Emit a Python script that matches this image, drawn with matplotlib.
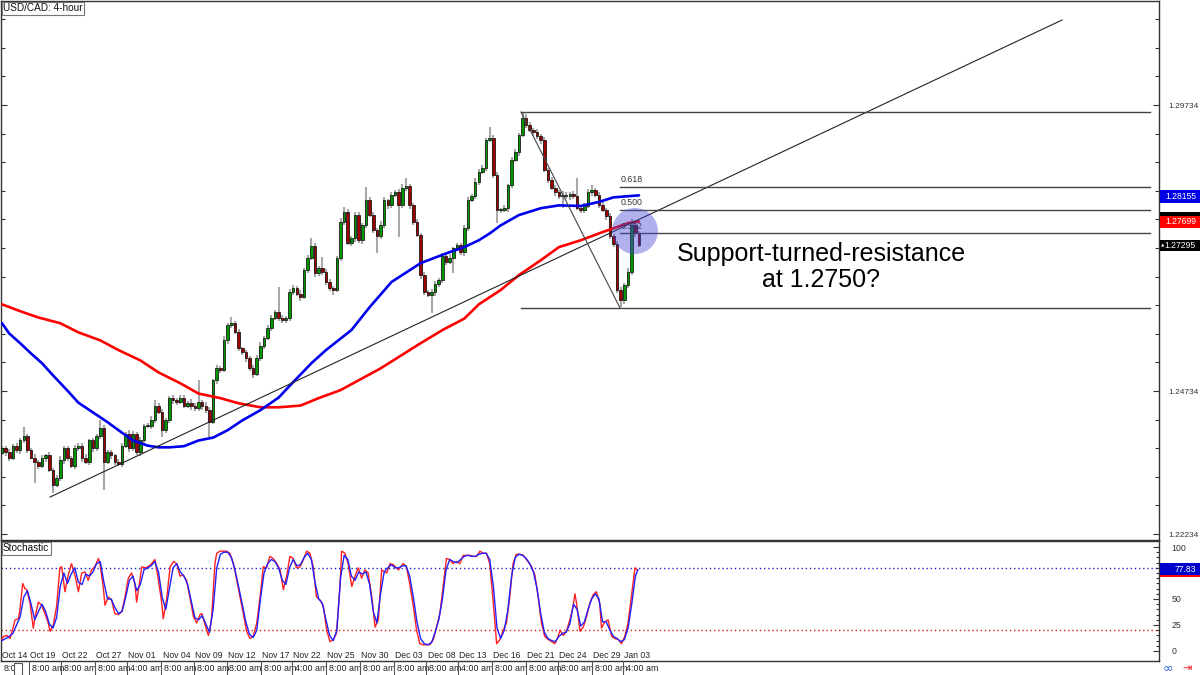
import numpy as np
import matplotlib
matplotlib.use("Agg")
import matplotlib.pyplot as plt
from matplotlib.patches import Rectangle, Ellipse
from matplotlib.transforms import blended_transform_factory

# ---------------- data ----------------
first_open = 1.2365
close = [1.2373,1.2366,1.2356,1.2377,1.2370,1.2387,1.2394,1.2370,1.2357,1.2349,
         1.2342,1.2356,1.2361,1.2335,1.2310,1.2321,1.2352,1.2373,1.2356,1.2342,
         1.2373,1.2378,1.2356,1.2349,1.2387,1.2373,1.2394,1.2408,1.2349,1.2366,
         1.2361,1.2349,1.2345,1.2378,1.2398,1.2373,1.2398,1.2366,1.2387,1.2412,
         1.2413,1.2422,1.2448,1.2436,1.2405,1.2422,1.2461,1.2457,1.2454,1.2461,
         1.2448,1.2452,1.2447,1.2443,1.2454,1.2448,1.2440,1.2419,1.2492,1.2513,
         1.2510,1.2562,1.2588,1.2592,1.2576,1.2548,1.2541,1.2531,1.2513,1.2504,
         1.2531,1.2553,1.2566,1.2583,1.2601,1.2611,1.2601,1.2597,1.2601,1.2646,
         1.2653,1.2643,1.2637,1.2685,1.2706,1.2727,1.2679,1.2688,1.2681,1.2664,
         1.2653,1.2650,1.2706,1.2769,1.2786,1.2732,1.2741,1.2781,1.2737,1.2763,
         1.2807,1.2781,1.2755,1.2744,1.2763,1.2807,1.2798,1.2816,1.2821,1.2798,
         1.2828,1.2832,1.2798,1.2769,1.2746,1.2676,1.2646,1.2641,1.2646,1.2660,
         1.2667,1.2709,1.2699,1.2706,1.2723,1.2728,1.2716,1.2758,1.2807,1.2814,
         1.2839,1.2856,1.2863,1.2912,1.2916,1.2851,1.2790,1.2790,1.2793,1.2833,
         1.2877,1.2891,1.2921,1.2951,1.2938,1.2930,1.2926,1.2919,1.2912,1.2860,
         1.2842,1.2828,1.2821,1.2814,1.2816,1.2814,1.2818,1.2814,1.2793,1.2790,
         1.2797,1.2821,1.2825,1.2816,1.2798,1.2790,1.2779,1.2744,1.2730,1.2650,
         1.2632,1.2658,1.2681,1.2763,1.2749,1.27295]
upper_wick_pips = [5,4,6,3,5,4,16,5,3,6,4,5,3,6,4,5,7,4,5,3,
                   6,4,5,7,3,5,4,14,6,5,4,3,6,5,4,7,5,3,6,4,
                   5,7,9,4,6,5,3,5,4,6,5,4,7,5,38,4,6,5,3,6,
                   4,7,5,10,4,6,3,5,4,6,5,7,4,5,6,4,44,5,3,6,
                   5,4,7,3,6,14,5,4,19,5,6,4,3,7,9,5,4,6,5,4,
                   23,5,6,4,7,5,3,6,4,5,7,14,4,5,6,3,5,4,6,5,
                   4,6,5,7,3,5,4,6,5,4,7,5,6,4,19,5,6,4,5,3,
                   6,5,4,10,7,5,4,6,3,5,4,6,5,4,7,5,3,6,31,4,
                   5,6,8,4,5,6,3,5,4,6,5,4,7,12,5,4]
lower_wick_pips = [4,6,5,3,5,6,4,5,3,37,5,4,6,3,14,5,4,6,5,3,
                   5,4,6,3,5,7,4,5,49,4,6,5,3,5,4,6,5,4,7,5,
                   4,6,5,3,12,5,4,6,5,3,5,4,6,5,4,7,5,26,4,6,
                   5,4,6,5,3,5,4,6,5,7,4,5,6,3,5,4,6,5,4,6,
                   5,4,6,3,5,4,7,5,4,6,5,9,4,6,5,3,5,7,4,6,
                   5,4,6,30,5,4,7,5,3,56,5,4,6,5,4,7,5,4,31,6,
                   5,4,6,3,26,5,4,6,5,3,5,6,4,5,3,6,23,5,4,6,
                   5,4,6,3,5,4,7,5,6,4,5,3,6,5,21,4,6,5,3,6,
                   5,4,6,3,5,4,6,5,4,5,12,6,4,5,6,5]

blue_ma = [(0,1.2592),(2,1.2574),(5,1.2557),(8,1.2539),(11,1.2522),(14,1.2501),(18,1.2474),
           (21,1.2453),(25,1.2436),(29,1.2419),(32,1.2405),(36,1.2387),(40,1.2378),(43,1.2375),
           (46,1.2375),(50,1.2377),(54,1.2387),(58,1.2392),(62,1.2405),(66,1.2422),(71,1.2440),
           (76,1.2462),(80,1.2489),(85,1.2522),(89,1.2545),(96,1.2580),(101,1.2620),(107,1.2664),
           (115,1.2697),(122,1.2714),(127,1.2725),(131,1.2737),(134,1.2749),(137,1.2763),
           (142,1.2781),(148,1.2793),(153,1.2798),(159,1.2797),(164,1.2804),(168,1.2812),
           (172,1.2814),(175,1.28155)]
red_ma = [(0,1.2625),(5,1.2613),(10,1.2602),(16,1.2592),(21,1.2576),(27,1.2562),(32,1.2545),
          (38,1.2527),(43,1.2506),(49,1.2487),(54,1.2469),(60,1.2461),(65,1.2452),(71,1.2445),
          (76,1.2445),(82,1.2448),(87,1.2461),(93,1.2475),(104,1.2513),(115,1.2557),(121,1.2580),
          (127,1.2600),(131,1.2625),(137,1.2650),(142,1.2676),(148,1.2702),(153,1.2725),
          (159,1.2737),(164,1.2749),(168,1.2758),(172,1.2767),(175,1.27699)]

stoch_red = [(0,11),(0.4,14),(1.3,15),(2.2,12),(3.1,23),(3.6,30),(4.5,31),(4.9,39),(5.7,65),(6.3,60),
 (6.8,59),(7.7,46),(8.6,22),(9.1,33),(10.0,47),(10.9,44),(11.8,36),(12.7,27),(13.2,19),(14.1,25),
 (15.0,43),(15.9,80),(16.4,81),(17.3,57),(18.2,73),(19.1,84),(20.1,72),(21.0,57),(21.9,75),(22.8,76),
 (23.7,68),(24.6,78),(25.5,81),(26.5,89),(26.9,84),(27.8,62),(28.3,44),(29.2,52),(30.1,49),(31.0,36),
 (32.0,35),(32.9,38),(33.8,52),(34.7,70),(35.6,75),(36.5,65),(37.0,47),(38.4,81),(39.3,80),(40.2,81),
 (41.1,84),(42.0,88),(42.9,70),(43.9,46),(44.3,31),(45.2,49),(46.2,81),(47.1,86),(48.0,84),(48.9,72),
 (49.8,73),(50.7,68),(51.6,52),(52.6,33),(53.5,27),(54.4,35),(54.9,36),(55.8,25),(56.7,15),(57.1,20),
 (57.6,33),(58.5,84),(59.0,94),(59.9,96),(61.7,96),(62.6,94),(63.6,84),(64.5,68),(65.4,52),(66.3,36),
 (67.2,19),(68.1,12),(69.0,14),(70.0,27),(70.9,52),(71.8,81),(72.7,80),(73.6,91),(74.5,89),(75.5,84),
 (76.4,78),(77.3,59),(78.2,72),(79.1,91),(80.0,89),(80.9,80),(81.9,81),(82.8,88),(83.7,96),(84.6,94),
 (85.5,81),(86.4,52),(87.4,49),(88.3,43),(89.2,20),(90.1,9),(91.0,11),(91.9,17),(92.9,65),(93.3,96),
 (94.2,94),(95.1,84),(96.1,62),(97.0,72),(97.9,80),(98.8,70),(99.7,78),(100.6,75),(101.6,52),(102.5,23),
 (103.4,30),(104.3,78),(105.7,75),(106.6,84),(107.5,83),(108.9,78),(110.2,84),(111.1,81),(112.0,65),
 (113.0,43),(113.9,20),(114.8,7),(115.7,6),(117.5,6),(118.5,11),(119.4,23),(120.3,36),(121.2,62),
 (122.1,89),(123.0,88),(123.9,84),(124.9,86),(125.8,84),(126.7,92),(127.6,92),(128.5,92),(129.4,91),
 (130.4,91),(131.3,96),(132.2,94),(133.1,94),(134.0,84),(134.9,49),(135.9,7),(136.8,11),(137.7,20),
 (138.6,27),(139.5,52),(140.4,84),(141.3,93),(142.3,93),(143.2,92),(144.1,88),(145.5,81),(146.4,73),
 (147.3,52),(148.2,27),(149.1,14),(150.1,11),(151.0,9),(151.9,7),(152.8,14),(153.3,20),(154.2,15),
 (155.1,19),(156.0,30),(156.9,43),(157.4,55),(157.8,47),(158.8,19),(159.7,23),(160.6,33),(161.5,46),
 (162.4,54),(163.3,57),(164.2,46),(164.7,22),(165.6,28),(166.5,30),(167.5,14),(168.4,12),(169.3,11),
 (170.2,7),(171.1,14),(172.0,27),(172.9,52),(173.9,80),(174.5,78)]
stoch_blue = [(0,10),(1,12),(2,14),(3,17),(4,25),(5,33),(6,52),(7,58),(8,45),(9,30),(10,38),(11,45),
 (12,38),(13,26),(14,22),(15,32),(16,62),(17,75),(18,65),(19,74),(20,80),(21,66),(22,64),(23,74),
 (24,72),(25,76),(26,84),(27,86),(28,66),(29,50),(30,50),(31,42),(32,36),(33,38),(34,52),(35,68),
 (36,72),(37,58),(38,64),(39,78),(40,80),(41,82),(42,86),(43,76),(44,52),(45,40),(46,60),(47,80),
 (48,84),(49,76),(50,72),(51,64),(52,48),(53,32),(54,30),(55,34),(56,26),(57,18),(58,40),(59,80),
 (60,93),(61,95),(62,95),(63,90),(64,78),(65,62),(66,45),(67,28),(68,16),(69,13),(70,20),(71,50),
 (72,75),(73,84),(74,88),(75,86),(76,80),(77,68),(78,64),(79,80),(80,88),(81,82),(82,83),(83,90),
 (84,94),(85,88),(86,66),(87,50),(88,46),(89,30),(90,15),(91,10),(92,20),(93,70),(94,92),(95,88),
 (96,72),(97,68),(98,76),(99,74),(100,76),(101,64),(102,38),(103,27),(104,55),(105,76),(106,80),
 (107,83),(108,80),(109,80),(110,82),(111,82),(112,72),(113,52),(114,28),(115,12),(116,7),(117,6),
 (118,8),(119,18),(120,30),(121,50),(122,78),(123,88),(124,86),(125,85),(126,88),(127,91),(128,92),
 (129,91),(130,91),(131,93),(132,94),(133,94),(134,88),(135,62),(136,22),(137,12),(138,20),(139,40),
 (140,72),(141,90),(142,93),(143,92),(144,89),(145,84),(146,76),(147,60),(148,36),(149,18),(150,12),
 (151,10),(152,9),(153,14),(154,17),(155,18),(156,26),(157,45),(158,40),(159,24),(160,28),(161,40),
 (162,50),(163,55),(164,50),(165,28),(166,28),(167,20),(168,14),(169,12),(170,9),(171,11),(172,22),
 (173,45),(174,72),(174.7,78)]

trend_pts = [(13.2, 1.22881), (291.2, 1.31220)]
fib_high = (142.6, 1.29612)
fib_low = (169.8, 1.26185)
fib_levels = [0.618, 0.500, 0.382]

price_ticks = [1.22234, 1.24734, 1.29734]
stoch_ticks = [0, 25, 50, 100]

date_labels = ["Oct 14","Oct 19","Oct 22","Oct 27","Nov 01","Nov 04","Nov 09","Nov 12","Nov 17",
               "Nov 22","Nov 25","Nov 30","Dec 03","Dec 08","Dec 13","Dec 16","Dec 21","Dec 24",
               "Dec 29","Jan 03"]
date_pos = [0, 7.7, 16.5, 25.8, 34.6, 44, 53, 62, 71.4, 79.9, 89.3, 98.6, 108, 116.8, 125.5,
            134.9, 144.2, 153, 162.4, 170.9]
time_labels = ["8:0", "8:00 am", "8:00 am", "8:00 am", "4:00 am", "8:00 am", "8:00 am", "8:00 am",
               "8:00 am", "4:00 am", "8:00 am", "8:00 am", "8:00 am", "8:00 am", "4:00 am", "8:00 am",
               "8:00 am", "8:00 am", "8:00 am", "4:00 am"]

plt.rcParams["font.family"] = ["Liberation Sans", "DejaVu Sans"]

# ---------------- figure ----------------
W, H = 1200, 675
fig = plt.figure(figsize=(12, 6.75), dpi=100)
fig.patch.set_facecolor("white")
ax = fig.add_axes([1 / W, 135 / H, 1158 / W, 539 / H])
axs = fig.add_axes([1 / W, 14 / H, 1158 / W, 120 / H])

XL = (-0.27, 317.86)
for a in (ax, axs):
    a.set_xlim(*XL)
    a.set_xticks([])
    for s in a.spines.values():
        s.set_color("#333333")
        s.set_linewidth(1.0)
ax.set_ylim(1.22130, 1.31553)
axs.set_ylim(-9.62, 105.77)

# candles
n = len(close)
opens = [first_open] + close[:-1]
x = np.arange(n)
o = np.array(opens)
c = np.array(close)
hi = np.maximum(o, c) + np.array(upper_wick_pips) * 1e-4
lo = np.minimum(o, c) - np.array(lower_wick_pips) * 1e-4
ax.vlines(x, lo, hi, color="#a8a8a8", linewidth=1.5, zorder=2)
up = c >= o
bot = np.minimum(o, c)
hgt = np.maximum(np.abs(c - o), 0.00012)
ax.bar(x[up], hgt[up], bottom=bot[up], width=0.72, color="#009600",
       edgecolor="#111111", linewidth=0.55, zorder=3)
ax.bar(x[~up], hgt[~up], bottom=bot[~up], width=0.72, color="#a00000",
       edgecolor="#111111", linewidth=0.55, zorder=3)

# moving averages
bx, by = zip(*blue_ma)
rx, ry = zip(*red_ma)
ax.plot(rx, ry, color="#ff0000", linewidth=1.9, zorder=4, solid_capstyle="round")
ax.plot(bx, by, color="#0000ee", linewidth=1.9, zorder=4, solid_capstyle="round")

# trend line
tx, ty = zip(*trend_pts)
ax.plot(tx, ty, color="#222222", linewidth=0.8, zorder=5)

# fibonacci
x_end = 315.4
ax.plot([fib_high[0], fib_low[0]], [fib_high[1], fib_low[1]], color="#444444", linewidth=0.8, zorder=5)
ax.plot([fib_high[0], x_end], [fib_high[1]] * 2, color="#444444", linewidth=1.0, zorder=5)
ax.plot([fib_high[0], x_end], [fib_low[1]] * 2, color="#444444", linewidth=1.0, zorder=5)
rng = fib_high[1] - fib_low[1]
for lv in fib_levels:
    yv = fib_low[1] + lv * rng
    ax.plot([fib_low[0], x_end], [yv, yv], color="#444444", linewidth=1.0, zorder=5)
    ax.text(fib_low[0] + 0.2, yv + 0.00045, f"{lv:.3f}", fontsize=6.3, color="#333333",
            ha="left", va="bottom", zorder=6)

# highlight circle
ax.add_patch(Ellipse((173.9, 1.27532), 12.6, 0.00804, facecolor="#4444d6", alpha=0.42,
                     edgecolor="none", zorder=7))

# annotation
ax.text(225.0, 1.26902, "Support-turned-resistance\nat 1.2750?", fontsize=18,
        family="Liberation Sans", ha="center", va="center", linespacing=1.1, color="#000000", zorder=8)

# price axis ticks (right, inward)
ax.yaxis.tick_right()
ax.set_yticks(price_ticks)
ax.set_yticklabels([f"{t:.5f}" for t in price_ticks])
ax.set_yticks(np.arange(1.22234, 1.3155, 0.005), minor=True)
ax.tick_params(axis="y", which="both", left=True, right=True, direction="in", colors="#333333",
               labelsize=6, pad=7, labelleft=False, labelright=True)
ax.tick_params(axis="y", which="major", length=4, width=0.8)
ax.tick_params(axis="y", which="minor", length=3, width=0.8)

# stochastic
srx, sry = zip(*stoch_red)
sbx, sby = zip(*stoch_blue)
axs.axhline(80, color="#2222cc", linestyle=(0, (1, 2)), linewidth=1.0)
axs.axhline(20, color="#dd2222", linestyle=(0, (1, 2)), linewidth=1.0)
axs.plot(srx, sry, color="#ff2020", linewidth=1.0, zorder=3)
axs.plot(sbx, sby, color="#2020ff", linewidth=1.0, zorder=4)
axs.yaxis.tick_right()
axs.set_yticks(stoch_ticks)
axs.set_yticklabels([str(t) for t in stoch_ticks])
axs.set_yticks(np.arange(0, 101, 5), minor=True)
axs.tick_params(axis="y", which="both", left=False, right=True, direction="in", colors="#333333",
                labelsize=6.3, pad=9)
axs.tick_params(axis="y", which="major", length=4, width=0.8)
axs.tick_params(axis="y", which="minor", length=2.5, width=0.8)

# date labels in stochastic panel and time labels below
tr_d = blended_transform_factory(axs.transData, axs.transAxes)
tr_f = blended_transform_factory(axs.transData, fig.transFigure)
for lbl, p in zip(date_labels, date_pos):
    axs.text(p + 0.1, 0.045, lbl, transform=tr_d, fontsize=6.2, color="#222222",
             ha="left", va="center", clip_on=False)
for lbl, p in zip(time_labels, date_pos):
    axs.text(p + 0.5, 6.5 / H, lbl, transform=tr_f, fontsize=6.4, color="#222222",
             ha="left", va="center", clip_on=False)
    if p > 0:
        fig.add_artist(plt.Line2D([p - 0.3, p - 0.3], [0, 14 / H], transform=tr_f,
                                  color="#555555", linewidth=0.8))
fig.add_artist(Rectangle((14 / W, 0.5 / H), 8 / W, 12 / H, transform=fig.transFigure,
                         facecolor="white", edgecolor="#555555", linewidth=0.8))

# panel titles
fig.text(3 / W, 1 - 8 / H, "USD/CAD: 4-hour", fontsize=7.2, color="#111111", ha="left", va="center",
         bbox=dict(boxstyle="square,pad=0.15", facecolor="white", edgecolor="#777777", linewidth=0.8))
fig.text(3 / W, 1 - 548 / H, "Stochastic", fontsize=7.2, color="#111111", ha="left", va="center",
         bbox=dict(boxstyle="square,pad=0.15", facecolor="white", edgecolor="#777777", linewidth=0.8))


# value boxes on the right scale
def value_box(y_top, y_bot, fc, txt, tc="white", marker=False):
    fig.add_artist(Rectangle((1160 / W, 1 - y_bot / H), 40 / W, (y_bot - y_top) / H,
                             transform=fig.transFigure, facecolor=fc, edgecolor="none", zorder=20))
    if txt:
        fig.text(1196 / W, 1 - (y_top + y_bot) / 2 / H, txt, fontsize=6.2, color=tc,
                 ha="right", va="center", zorder=21)
    if marker:
        fig.text(1161 / W, 1 - (y_top + y_bot) / 2 / H, "\u25b2", fontsize=3.2, color="white",
                 family="DejaVu Sans", ha="left", va="center", zorder=21)


value_box(190, 203, "#0000e6", "1.28155")
value_box(212, 219, "#000000", "")
value_box(216, 228, "#ff0000", "1.27699")
value_box(240, 251, "#000000", "1.27295", marker=True)
value_box(574, 577, "#ff0000", "")
value_box(563, 575, "#0000cc", "77.83")

# small icons bottom right
fig.text(1168 / W, 7 / H, "\u221e", fontsize=9, color="#2255dd", family="DejaVu Sans",
         ha="center", va="center")
fig.text(1187 / W, 7 / H, "\u21e5", fontsize=8, color="#ee2222", family="DejaVu Sans",
         ha="center", va="center")

fig.savefig("out.png", dpi=100, facecolor="white")
